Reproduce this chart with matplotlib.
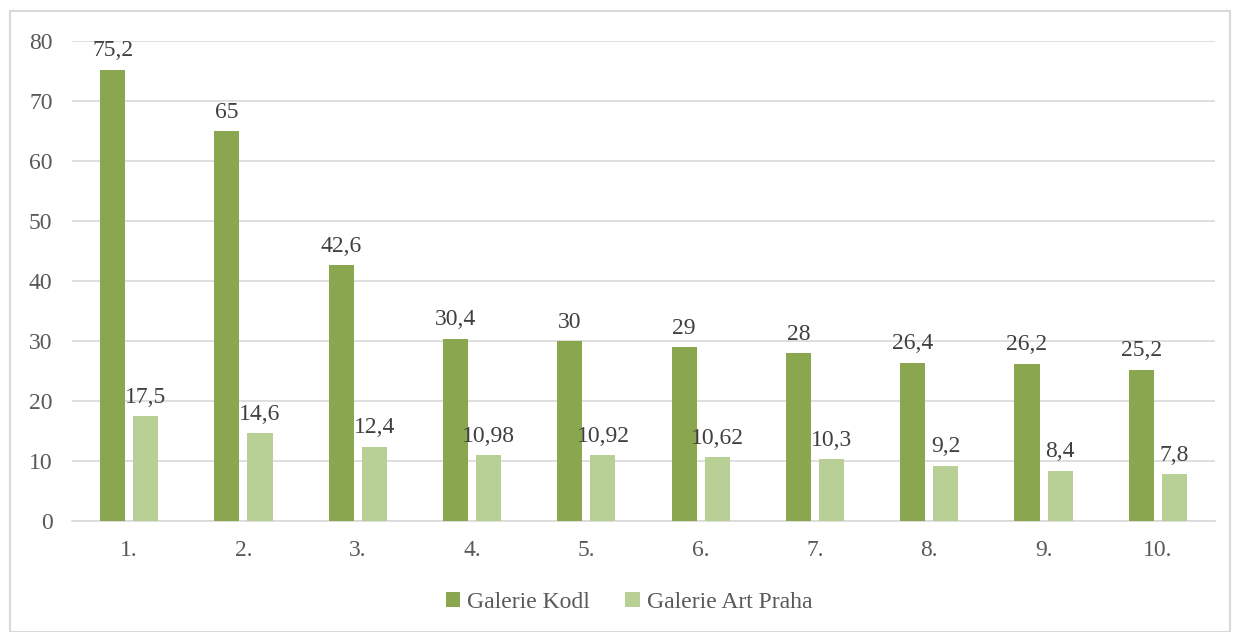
import matplotlib.pyplot as plt
import matplotlib.patches as mpatches
import numpy as np

plt.rcParams['font.family'] = ['Liberation Serif', 'DejaVu Serif']

# data
categories = ["1.", "2.", "3.", "4.", "5.", "6.", "7.", "8.", "9.", "10."]
kodl = [75.2, 65, 42.6, 30.4, 30, 29, 28, 26.4, 26.2, 25.2]
art_praha = [17.5, 14.6, 12.4, 10.98, 10.92, 10.62, 10.3, 9.2, 8.4, 7.8]
kodl_labels = ["75,2", "65", "42,6", "30,4", "30", "29", "28", "26,4", "26,2", "25,2"]
art_labels = ["17,5", "14,6", "12,4", "10,98", "10,92", "10,62", "10,3", "9,2", "8,4", "7,8"]

dark_green = '#8aa64e'
light_green = '#b8cf95'
text_col = '#595959'

fig = plt.figure(figsize=(12.33, 6.32), dpi=100)
ax = fig.add_axes([72/1233, 1 - 521/632, 1143/1233, 480/632])

# outer border like the excel chart area
fig.patches.append(mpatches.Rectangle((10/1233, 0), 1220/1233, 1 - 11/632,
                                      transform=fig.transFigure, fill=False,
                                      edgecolor='#d9d9d9', linewidth=1.5))

x = np.arange(len(categories))
w = 0.22
off = 0.145
b1 = ax.bar(x - off, kodl, w, color=dark_green, label='Galerie Kodl', zorder=3)
b2 = ax.bar(x + off, art_praha, w, color=light_green, label='Galerie Art Praha', zorder=3)

for rect, lab in zip(b1, kodl_labels):
    ax.annotate(lab, (rect.get_x() + rect.get_width() / 2, rect.get_height()),
                xytext=(0, 6), textcoords='offset points', ha='center', va='bottom',
                fontsize=17, color='#404040')
for rect, lab in zip(b2, art_labels):
    ax.annotate(lab, (rect.get_x() + rect.get_width() / 2, rect.get_height()),
                xytext=(0, 6), textcoords='offset points', ha='center', va='bottom',
                fontsize=17, color='#404040')

ax.set_xlim(-0.5, len(categories) - 0.5)
ax.set_ylim(0, 80)
ax.set_yticks(range(0, 81, 10))
ax.set_xticks(x)
ax.set_xticklabels(categories)
ax.yaxis.grid(True, color='#d9d9d9', linewidth=1.2, zorder=0)
ax.tick_params(axis='both', length=0, labelsize=17, colors=text_col)
ax.tick_params(axis='y', pad=14)
ax.tick_params(axis='x', pad=14)
for s in ['top', 'right', 'left']:
    ax.spines[s].set_visible(False)
ax.spines['bottom'].set_color('#d9d9d9')
ax.spines['bottom'].set_linewidth(1.2)

leg = fig.legend(handles=[b1, b2], loc='center', bbox_to_anchor=(629/1233, 1 - 602/632),
                 ncol=2, frameon=False, fontsize=17, handlelength=0.6, handleheight=0.6,
                 handletextpad=0.3, columnspacing=1.5)
for t in leg.get_texts():
    t.set_color(text_col)

fig.savefig("out.png", dpi=100)
